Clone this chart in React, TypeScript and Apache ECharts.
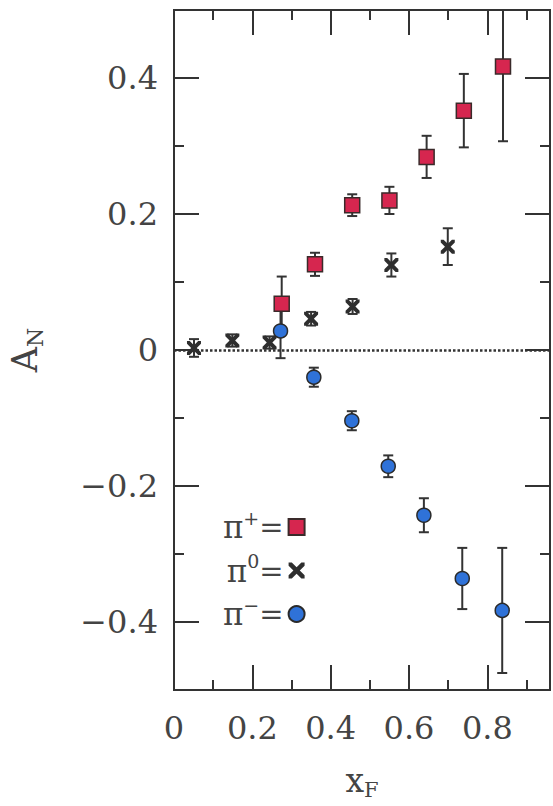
import React, { useEffect, useRef } from "react";
import * as echarts from "echarts";

// ---- data ----
const piPlusX = [0.275, 0.36, 0.455, 0.55, 0.645, 0.74, 0.84];
const piPlusY = [0.068, 0.126, 0.213, 0.22, 0.284, 0.352, 0.417];
const piPlusErr = [0.04, 0.017, 0.016, 0.02, 0.031, 0.054, 0.11];

const piZeroX = [0.051, 0.149, 0.244, 0.35, 0.456, 0.555, 0.699];
const piZeroY = [0.003, 0.014, 0.011, 0.046, 0.064, 0.125, 0.152];
const piZeroErr = [0.013, 0.009, 0.009, 0.01, 0.011, 0.017, 0.027];

const piMinusX = [0.272, 0.357, 0.454, 0.547, 0.638, 0.736, 0.838];
const piMinusY = [0.028, -0.04, -0.104, -0.171, -0.243, -0.336, -0.383];
const piMinusErr = [0.04, 0.014, 0.014, 0.016, 0.025, 0.045, 0.092];

const xMajorTicks = [0.2, 0.4, 0.6, 0.8];
const xMinorTicks = [0.1, 0.3, 0.5, 0.7, 0.9];
const xTickLabels = [0, 0.2, 0.4, 0.6, 0.8];
const yMajorTicks = [-0.4, -0.2, 0, 0.2, 0.4];
const yMinorTicks = [-0.3, -0.1, 0.1, 0.3];
const yTickLabels = [-0.4, -0.2, 0, 0.2, 0.4];

const seriesNames = ["π+", "π0", "π−"];
const seriesSup = ["+", "0", "−"];

const FONT = "DejaVu Serif";
const INK = "#333333";
const TXT = "#444444";

const X_MIN = 0;
const X_MAX = 0.96;
const Y_MIN = -0.5;
const Y_MAX = 0.5;

const fmt = (v: number) => {
  if (Math.abs(v) < 1e-9) return "0";
  const s = Math.abs(v).toFixed(1);
  return v < 0 ? "\u2212" + s : s;
};

const toErr = (xs: number[], ys: number[], es: number[]) =>
  xs.map((x, i) => [x, ys[i] - es[i], ys[i] + es[i]]);
const toPts = (xs: number[], ys: number[]) => xs.map((x, i) => [x, ys[i]]);

const CROSS =
  "path://M0,0L4,0L10,6L16,0L20,0L20,4L14,10L20,16L20,20L16,20L10,14L4,20L0,20L0,16L6,10L0,4Z";

function errRender(params: any, api: any) {
  const x = api.value(0);
  const lo = api.value(1);
  const hi = api.value(2);
  const p1 = api.coord([x, hi]);
  const p2 = api.coord([x, lo]);
  const w = 5;
  const st = { stroke: INK, lineWidth: 2 };
  return {
    type: "group",
    children: [
      { type: "line", shape: { x1: p1[0], y1: p1[1], x2: p2[0], y2: p2[1] }, style: st },
      { type: "line", shape: { x1: p1[0] - w, y1: p1[1], x2: p1[0] + w, y2: p1[1] }, style: st },
      { type: "line", shape: { x1: p2[0] - w, y1: p2[1], x2: p2[0] + w, y2: p2[1] }, style: st },
    ],
  };
}

function xAxisCfg(position: "bottom" | "top", ticks: number[], len: number, labels: boolean) {
  return {
    type: "value",
    position,
    min: X_MIN,
    max: X_MAX,
    axisLine: { show: true, onZero: false, lineStyle: { color: INK, width: 2 } },
    axisTick: { show: true, inside: true, length: len, customValues: ticks, lineStyle: { color: INK, width: 2 } },
    axisLabel: labels
      ? {
          show: true,
          customValues: xTickLabels,
          formatter: fmt,
          margin: 22,
          fontFamily: FONT,
          fontSize: 32,
          color: TXT,
        }
      : { show: false },
    splitLine: { show: false },
    ...(labels
      ? {
          name: "{a|x}{b|F}",
          nameLocation: "middle",
          nameGap: 70,
          nameTextStyle: {
            rich: {
              a: { fontFamily: FONT, fontSize: 33, color: TXT, lineHeight: 40 },
              b: { fontFamily: FONT, fontSize: 21, color: TXT, lineHeight: 21, verticalAlign: "bottom" },
            },
          },
        }
      : {}),
  };
}

function yAxisCfg(position: "left" | "right", ticks: number[], len: number, labels: boolean) {
  return {
    type: "value",
    position,
    min: Y_MIN,
    max: Y_MAX,
    axisLine: { show: true, onZero: false, lineStyle: { color: INK, width: 2 } },
    axisTick: { show: true, inside: true, length: len, customValues: ticks, lineStyle: { color: INK, width: 2 } },
    axisLabel: labels
      ? {
          show: true,
          customValues: yTickLabels,
          formatter: fmt,
          margin: 16,
          fontFamily: FONT,
          fontSize: 32,
          color: TXT,
        }
      : { show: false },
    splitLine: { show: false },
    ...(labels
      ? {
          name: "{a|A}{b|N}",
          nameLocation: "middle",
          nameGap: 128,
          nameTextStyle: {
            rich: {
              a: { fontFamily: FONT, fontSize: 35, color: TXT, lineHeight: 42 },
              b: { fontFamily: FONT, fontSize: 22, color: TXT, lineHeight: 22, verticalAlign: "bottom" },
            },
          },
        }
      : {}),
  };
}

export default function App() {
  const ref = useRef<HTMLDivElement>(null);
  useEffect(() => {
    if (!ref.current) return;
    const chart = echarts.init(ref.current, undefined, { renderer: "svg" });
    const supMap: Record<string, string> = {};
    seriesNames.forEach((n, i) => (supMap[n] = seriesSup[i]));
    chart.setOption({
      animation: false,
      backgroundColor: "#ffffff",
      grid: { left: 174, right: 3, top: 10, bottom: 116, outerBoundsMode: "none", containLabel: false },
      xAxis: [
        xAxisCfg("bottom", xMajorTicks, 25, true),
        xAxisCfg("bottom", xMinorTicks, 10, false),
        xAxisCfg("top", xMajorTicks, 25, false),
        xAxisCfg("top", xMinorTicks, 10, false),
      ],
      yAxis: [
        yAxisCfg("left", yMajorTicks, 25, true),
        yAxisCfg("left", yMinorTicks, 10, false),
        yAxisCfg("right", yMajorTicks, 25, false),
        yAxisCfg("right", yMinorTicks, 10, false),
      ],
      legend: {
        data: seriesNames,
        orient: "vertical",
        left: 218,
        top: 503,
        align: "right",
        itemWidth: 16,
        itemHeight: 16,
        itemGap: 9,
        selectedMode: false,
        formatter: (name: string) => `{a|π}{b|${supMap[name]}}{c|=}`,
        textStyle: {
          rich: {
            a: { fontFamily: FONT, fontSize: 31, color: TXT, lineHeight: 38 },
            b: { fontFamily: FONT, fontSize: 19, color: TXT, lineHeight: 19, verticalAlign: "top" },
            c: { fontFamily: FONT, fontSize: 29, color: TXT, lineHeight: 38 },
          },
        },
      },
      series: [
        {
          type: "custom",
          name: "errPlus",
          renderItem: errRender,
          data: toErr(piPlusX, piPlusY, piPlusErr),
          encode: { x: 0, y: [1, 2] },
          clip: true,
          z: 2,
          silent: true,
          markLine: {
            silent: true,
            symbol: "none",
            label: { show: false },
            lineStyle: { color: INK, width: 2.5, type: [2.5, 2] },
            data: [{ yAxis: 0 }],
          },
        },
        {
          type: "custom",
          name: "errZero",
          renderItem: errRender,
          data: toErr(piZeroX, piZeroY, piZeroErr),
          encode: { x: 0, y: [1, 2] },
          clip: true,
          z: 2,
          silent: true,
        },
        {
          type: "custom",
          name: "errMinus",
          renderItem: errRender,
          data: toErr(piMinusX, piMinusY, piMinusErr),
          encode: { x: 0, y: [1, 2] },
          clip: true,
          z: 2,
          silent: true,
        },
        {
          type: "scatter",
          name: seriesNames[0],
          data: toPts(piPlusX, piPlusY),
          symbol: "rect",
          symbolSize: 15,
          itemStyle: { color: "#d6264f", borderColor: "#3a2a2a", borderWidth: 1.5, opacity: 1 },
          z: 5,
        },
        {
          type: "scatter",
          name: seriesNames[1],
          data: toPts(piZeroX, piZeroY),
          symbol: CROSS,
          symbolSize: 14,
          itemStyle: { color: "#2e2e2e", opacity: 1 },
          z: 5,
        },
        {
          type: "scatter",
          name: seriesNames[2],
          data: toPts(piMinusX, piMinusY),
          symbol: "circle",
          symbolSize: 14,
          itemStyle: { color: "#2f72d8", borderColor: "#2a2a2a", borderWidth: 1.5, opacity: 1 },
          z: 5,
        },
      ],
    });
    return () => chart.dispose();
  }, []);
  return (
    <div
      ref={ref}
      style={{ position: "fixed", left: 0, top: 0, width: 553, height: 806, background: "#fff" }}
    />
  );
}
